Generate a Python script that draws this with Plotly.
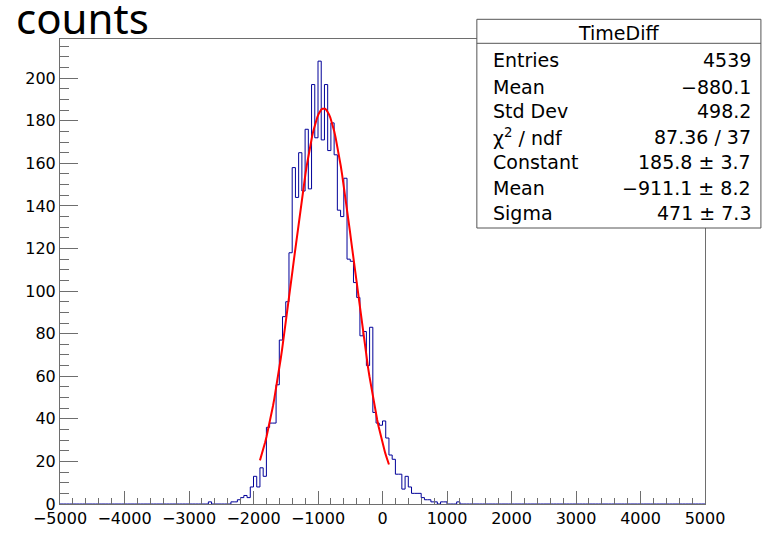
import numpy as np
import plotly.graph_objects as go

# ---------------- data ----------------
x_min, x_max = -5000, 5000
bin_width = 50
first_bin_low = -2750  # low edge of first listed bin
counts = [
    0, 1, 0, 0, 0, 0, 0, 0,            # -2750 .. -2400
    1, 1, 2, 3, 4, 3, 8, 13,           # -2350 .. -2000
    8, 17, 13, 36, 38, 38, 56, 77,     # -1950 .. -1600
    88, 95, 118, 158, 144, 165, 147, 176,   # -1550 .. -1200
    148, 197, 172, 208, 171, 197, 166, 179, # -1150 .. -800
    164, 138, 135, 153, 115, 114, 104, 97,  # -750 .. -400
    79, 81, 65, 83, 43, 38, 37, 39,         # -350 .. 0
    31, 23, 21, 14, 14, 7, 13, 8,           # 50 .. 400
    5, 5, 5, 3, 2, 2, 1, 1,                 # 450 .. 800
    0, 1, 1, 0, 0, 0, 1,                    # 850 .. 1150
]

hist_title = "TimeDiff"
stat_labels = ["Entries", "Mean", "Std Dev", "χ<sup>2</sup> / ndf",
               "Constant", "Mean", "Sigma"]
stat_values = ["4539", "−880.1", "498.2", "87.36 / 37",
               "185.8 ± 3.7", "−911.1 ± 8.2", "471 ± 7.3"]

fit_constant = 185.8
fit_mean = -911.1
fit_sigma = 471.0
fit_range = (-1900, 100)

x_tickvals = list(range(-5000, 5001, 1000))
x_ticktext = [("−" + str(-v)) if v < 0 else str(v) for v in x_tickvals]
y_tickvals = list(range(0, 201, 20))
y_ticktext = [str(v) for v in y_tickvals]

# ---------------- build histogram ----------------
nbins = (x_max - x_min) // bin_width
full = np.zeros(nbins)
start_idx = (first_bin_low - x_min) // bin_width
full[start_idx:start_idx + len(counts)] = counts
edges = x_min + bin_width * np.arange(nbins + 1)
step_x = edges
step_y = np.append(full, full[-1])

fx = np.linspace(fit_range[0], fit_range[1], 100)
fy = fit_constant * np.exp(-0.5 * ((fx - fit_mean) / fit_sigma) ** 2)

ymax = 1.05 * max(counts)

# ---------------- layout geometry (pixels) ----------------
W, H = 762, 543
L, R, T, B = 59.5, 705.5, 39, 504


def px(xp):
    return (xp - L) / (R - L)


def py(yp):
    return (B - yp) / (B - T)


fig = go.Figure()
fig.add_trace(go.Scatter(x=step_x, y=step_y, mode="lines",
                         line=dict(color="#000099", width=1, shape="hv"),
                         hoverinfo="skip", showlegend=False))
fig.add_trace(go.Scatter(x=fx, y=fy, mode="lines",
                         line=dict(color="#ff0000", width=2),
                         hoverinfo="skip", showlegend=False))

axis_col = "#6e6e6e"
fig.update_xaxes(range=[x_min, x_max], showgrid=False, zeroline=False,
                 showline=True, mirror=True, linecolor=axis_col, linewidth=1,
                 ticks="inside", ticklen=13, tickcolor=axis_col,
                 tickvals=x_tickvals, ticktext=x_ticktext,
                 tickfont=dict(family="DejaVu Sans", size=16, color="black"),
                 minor=dict(dtick=200, tick0=-5000, ticks="inside", ticklen=6,
                            tickcolor=axis_col, showgrid=False))
fig.update_yaxes(range=[0, ymax], showgrid=False, zeroline=False,
                 showline=True, mirror=True, linecolor=axis_col, linewidth=1,
                 ticks="inside", ticklen=18, tickcolor=axis_col,
                 tickvals=y_tickvals, ticktext=y_ticktext,
                 tickfont=dict(family="DejaVu Sans", size=16, color="black"),
                 minor=dict(dtick=5, tick0=0, ticks="inside", ticklen=9,
                            tickcolor=axis_col, showgrid=False))

# stats box
box_l, box_r, box_t, box_b = 477, 761.5, 19.3, 228
sep_y = 43.3
shapes = [
    dict(type="rect", xref="paper", yref="paper",
         x0=px(box_l), x1=px(box_r), y0=py(box_b), y1=py(box_t),
         line=dict(color="#555555", width=1), fillcolor="white", layer="above"),
    dict(type="line", xref="paper", yref="paper",
         x0=px(box_l), x1=px(box_r), y0=py(sep_y), y1=py(sep_y),
         line=dict(color="#555555", width=1), layer="above"),
]

annotations = []
sfont = dict(family="DejaVu Sans", size=19, color="black")
annotations.append(dict(text=hist_title, xref="paper", yref="paper",
                        x=px((box_l + box_r) / 2), y=py(33.3),
                        xanchor="center", yanchor="middle",
                        showarrow=False, font=sfont))
row_y = [60, 86.5, 111, 136.5, 161.7, 188, 213]
for lab, val, yy in zip(stat_labels, stat_values, row_y):
    annotations.append(dict(text=lab, xref="paper", yref="paper",
                            x=px(491.5), y=py(yy), xanchor="left",
                            yanchor="middle", showarrow=False, font=sfont))
    annotations.append(dict(text=val, xref="paper", yref="paper",
                            x=px(754), y=py(yy), xanchor="right",
                            yanchor="middle", showarrow=False, font=sfont))

annotations.append(dict(text="counts", xref="paper", yref="paper",
                        x=px(13), y=py(17.5), xanchor="left",
                        yanchor="middle", showarrow=False,
                        font=dict(family="Noto Sans", size=42, color="black")))

fig.update_layout(width=W, height=H, paper_bgcolor="white",
                  plot_bgcolor="white",
                  margin=dict(l=L, r=W - R, t=T, b=H - B, pad=0),
                  shapes=shapes, annotations=annotations, showlegend=False)

fig.write_html("out.html",
               config={"displayModeBar": False},
               post_script="document.body.style.margin='0px';"
                           "document.body.style.overflow='hidden';")
